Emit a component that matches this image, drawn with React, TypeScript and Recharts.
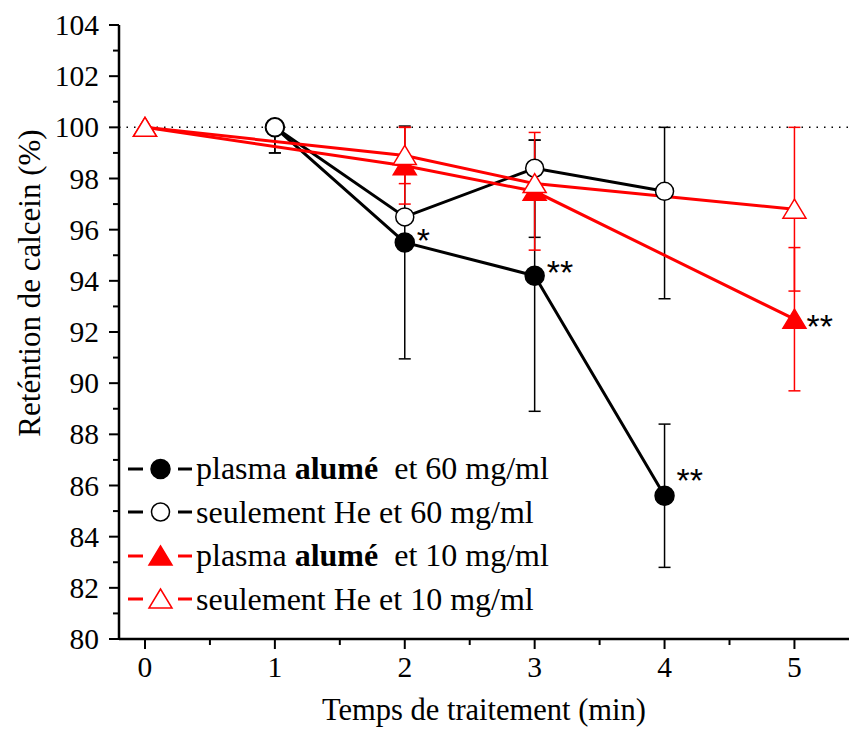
import React from 'react';
import { ErrorBar, LabelList, Legend, Line, LineChart, ReferenceLine, XAxis, YAxis } from 'recharts';

// temps de traitement (min)
const times60 = [1, 2, 3, 4];
const times10 = [0, 2, 3, 5];

// rétention de calcein (%)
const alume60 = [100, 95.5, 94.2, 85.6];
const heOnly60 = [100, 96.5, 98.4, 97.5];
const alume10 = [100, 98.5, 97.5, 92.5];
const heOnly10 = [100, 98.9, 97.8, 96.8];

// barres d'erreur [bas, haut]
const alume60Err = [[1, 0], [4.55, 4.55], [5.3, 5.3], [2.8, 2.8]];
const heOnly60Err = [[1, 0], [0, 0], [2.7, 1.1], [4.2, 2.5]];
const alume10Err = [[0, 0], [1.5, 1.5], [2.3, 2.3], [2.8, 2.8]];
const heOnly10Err = [[0, 0], [1.1, 1.1], [0, 0], [3.2, 3.2]];

// significativité
const alume60Sig = ['', '*', '**', '**'];
const alume10Sig = ['', '', '', '**'];

const xTicks = [0, 0.5, 1, 1.5, 2, 2.5, 3, 3.5, 4, 4.5, 5];
const yTicks = [80, 81, 82, 83, 84, 85, 86, 87, 88, 89, 90, 91, 92, 93, 94, 95, 96, 97, 98, 99, 100, 101, 102, 103, 104];

const RED = '#ff0000';
const SERIF = '"Liberation Serif", "Times New Roman", serif';

// small per-label nudges for the asterisks (dy)
const sigNudge: Record<string, number> = { '60-1': 9.5, '60-2': 8.5, '60-3': -3.5, '10-3': 18.5 };

const build = (xs: number[], ys: number[], errs: number[][], sig?: string[]) =>
  xs.map((x, i) => ({ x, y: ys[i], err: errs[i], sig: sig ? sig[i] : '' }));

const dataAlume60 = build(times60, alume60, alume60Err, alume60Sig);
const dataHe60 = build(times60, heOnly60, heOnly60Err);
const dataAlume10 = build(times10, alume10, alume10Err, alume10Sig);
const dataHe10 = build(times10, heOnly10, heOnly10Err);

function Marker({ cx, cy, shape, color, filled }: any) {
  if (shape === 'circle') {
    return <circle cx={cx} cy={cy} r={filled ? 9.5 : 9} fill={filled ? color : '#fff'} stroke={color} strokeWidth={1.5} />;
  }
  const pts = `${cx},${cy - 10} ${cx + 11.5},${cy + 9} ${cx - 11.5},${cy + 9}`;
  return <polygon points={pts} fill={filled ? color : '#fff'} stroke={color} strokeWidth={1.5} strokeLinejoin="miter" />;
}

const dotFor = (shape: string, color: string, filled: boolean) => (props: any) =>
  <Marker key={`d-${shape}-${filled}-${props.index}`} cx={props.cx} cy={props.cy} shape={shape} color={color} filled={filled} />;

const sigLabel = (group: string) => (props: any) => {
  const { x, y, value, index } = props;
  if (!value) return null;
  const dy = sigNudge[`${group}-${index}`] ?? 9;
  return (
    <text key={`s-${group}-${index}`} x={x + 12} y={y + dy} fontFamily='"Liberation Sans", Arial, sans-serif' fontSize={34} fill="#000">
      {value}
    </text>
  );
};

const YTick = ({ x, y, payload }: any) => {
  const major = payload.value % 2 === 0;
  return (
    <g>
      <line x1={x} x2={x - (major ? 10 : 6)} y1={y} y2={y} stroke="#000" strokeWidth={2} />
      {major && (
        <text x={x - 20} y={y + 10} textAnchor="end" fontFamily={SERIF} fontSize={29.5} fill="#000">
          {payload.value}
        </text>
      )}
    </g>
  );
};

const XTick = ({ x, y, payload }: any) => {
  const major = Number.isInteger(payload.value);
  return (
    <g>
      <line x1={x} x2={x} y1={y} y2={y + (major ? 10 : 6)} stroke="#000" strokeWidth={2} />
      {major && (
        <text x={x} y={y + 38} textAnchor="middle" fontFamily={SERIF} fontSize={29.5} fill="#000">
          {payload.value}
        </text>
      )}
    </g>
  );
};

const legendRows = [
  { shape: 'circle', color: '#000', filled: true, pre: 'plasma ', bold: 'alumé', post: '  et 60 mg/ml' },
  { shape: 'circle', color: '#000', filled: false, pre: 'seulement He et 60 mg/ml', bold: '', post: '' },
  { shape: 'triangle', color: RED, filled: true, pre: 'plasma ', bold: 'alumé', post: '  et 10 mg/ml' },
  { shape: 'triangle', color: RED, filled: false, pre: 'seulement He et 10 mg/ml', bold: '', post: '' },
];

const LegendContent = () => (
  <div style={{ fontFamily: SERIF, fontSize: 32, color: '#000' }}>
    {legendRows.map((r, i) => (
      <div key={i} style={{ display: 'flex', alignItems: 'center', height: 43.5 }}>
        <svg width={70} height={30} style={{ flex: 'none' }}>
          <line x1={2} x2={17} y1={15} y2={15} stroke={r.color} strokeWidth={3} />
          <line x1={52} x2={66} y1={15} y2={15} stroke={r.color} strokeWidth={3} />
          <Marker cx={34.5} cy={15} shape={r.shape} color={r.color} filled={r.filled} />
        </svg>
        <span style={{ whiteSpace: 'pre', marginLeft: 0 }}>
          {r.pre}
          {r.bold && <b>{r.bold}</b>}
          {r.post}
        </span>
      </div>
    ))}
  </div>
);

const YTitle = () => (
  <text transform="translate(40, 283) rotate(-90)" textAnchor="middle" fontFamily={SERIF} fontSize={31} fill="#000">
    Reténtion de calcein (%)
  </text>
);

export default function App() {
  return (
    <div style={{ position: 'absolute', left: 0, top: 0, width: 849, height: 729, background: '#fff' }}>
      <LineChart width={849} height={729} margin={{ top: 25, right: 0, bottom: 0, left: 0 }}>
        <XAxis
          type="number"
          dataKey="x"
          domain={[-0.2, 5.42]}
          ticks={xTicks}
          allowDataOverflow
          tick={<XTick />}
          tickLine={false}
          tickSize={0}
          tickMargin={0}
          height={90}
          axisLine={{ stroke: '#000', strokeWidth: 2.5 }}
          label={{ value: 'Temps de traitement (min)', position: 'insideBottom', offset: 9, style: { fontFamily: SERIF, fontSize: 30.5, fill: '#000' } }}
        />
        <YAxis
          type="number"
          domain={[80, 104]}
          ticks={yTicks}
          interval={0}
          allowDataOverflow
          tick={<YTick />}
          tickLine={false}
          tickSize={0}
          tickMargin={0}
          width={119}
          axisLine={{ stroke: '#000', strokeWidth: 2.5 }}
          label={<YTitle />}
        />
        <ReferenceLine y={100} stroke="#000" strokeWidth={1.5} strokeDasharray="1.5 6" ifOverflow="extendDomain" />
        <Legend
          layout="vertical"
          align="center"
          verticalAlign="middle"
          content={<LegendContent />}
          wrapperStyle={{ left: 126, top: 447, width: 480 }}
        />
        <Line data={dataAlume60} dataKey="y" stroke="#000" strokeWidth={3} isAnimationActive={false} dot={dotFor('circle', '#000', true)} activeDot={false}>
          <ErrorBar dataKey="err" direction="y" width={6} stroke="#000" strokeWidth={1.5} />
          <LabelList dataKey="sig" content={sigLabel('60')} />
        </Line>
        <Line data={dataHe60} dataKey="y" stroke="#000" strokeWidth={3} isAnimationActive={false} dot={dotFor('circle', '#000', false)} activeDot={false}>
          <ErrorBar dataKey="err" direction="y" width={6} stroke="#000" strokeWidth={1.5} />
        </Line>
        <Line data={dataAlume10} dataKey="y" stroke={RED} strokeWidth={3} isAnimationActive={false} dot={dotFor('triangle', RED, true)} activeDot={false}>
          <ErrorBar dataKey="err" direction="y" width={6} stroke={RED} strokeWidth={1.5} />
          <LabelList dataKey="sig" content={sigLabel('10')} />
        </Line>
        <Line data={dataHe10} dataKey="y" stroke={RED} strokeWidth={3} isAnimationActive={false} dot={dotFor('triangle', RED, false)} activeDot={false}>
          <ErrorBar dataKey="err" direction="y" width={6} stroke={RED} strokeWidth={1.5} />
        </Line>
      </LineChart>
    </div>
  );
}
